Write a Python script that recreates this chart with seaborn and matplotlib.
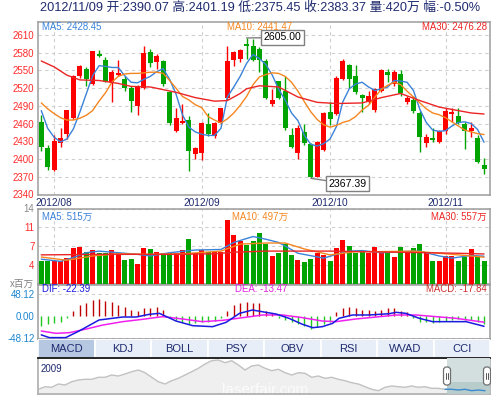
import numpy as np
import pandas as pd
import matplotlib
matplotlib.use("Agg")
import matplotlib.pyplot as plt
import seaborn as sns
from matplotlib.patches import Rectangle, FancyBboxPatch

# ---------------- data ----------------
opens = [2462, 2419, 2381, 2427, 2442, 2469, 2541, 2553, 2527, 2578,
         2568, 2531, 2542, 2536, 2521, 2490, 2521, 2581, 2565, 2566,
         2514, 2448, 2461, 2466, 2408, 2410, 2459, 2439, 2461, 2503,
         2568, 2570, 2595, 2592, 2587, 2566, 2493, 2532, 2516, 2440,
         2411, 2445, 2425, 2369, 2416, 2480, 2476, 2535, 2559, 2540,
         2508, 2496, 2483, 2516, 2548, 2527, 2544, 2497, 2500, 2478,
         2427, 2435, 2429, 2447, 2477, 2473, 2459, 2447, 2435, 2390.07]
highs = [2475, 2423, 2440, 2452, 2483, 2542, 2559, 2556, 2583, 2585,
         2572, 2551, 2568, 2541, 2524, 2525, 2591, 2587, 2578, 2568,
         2516, 2486, 2493, 2473, 2421, 2463, 2478, 2463, 2487, 2592,
         2583, 2586, 2605, 2603, 2589, 2569, 2519, 2532, 2541, 2453,
         2457, 2459, 2427, 2430, 2479, 2496, 2541, 2570, 2561, 2559,
         2510, 2516, 2521, 2553, 2552, 2550, 2551, 2506, 2506, 2482,
         2442, 2452, 2450, 2486, 2486, 2486, 2463, 2462, 2440, 2401.19]
lows = [2413, 2381, 2380, 2421, 2434, 2468, 2538, 2523, 2525, 2573,
        2530, 2496, 2540, 2516, 2480, 2474, 2518, 2555, 2552, 2524,
        2457, 2446, 2459, 2380, 2400, 2399, 2439, 2435, 2460, 2500,
        2558, 2564, 2569, 2566, 2547, 2501, 2489, 2501, 2449, 2418,
        2400, 2423, 2367.39, 2369, 2414, 2457, 2474, 2534, 2521, 2510,
        2479, 2493, 2480, 2513, 2531, 2524, 2506, 2493, 2478, 2412,
        2420, 2429, 2428, 2442, 2462, 2459, 2417, 2437, 2394, 2375.45]
closes = [2421, 2386, 2431, 2436, 2483, 2541, 2557, 2535, 2583, 2575,
          2531, 2548, 2545, 2521, 2499, 2523, 2579, 2562, 2575, 2527,
          2461, 2469, 2465, 2414, 2418, 2461, 2442, 2461, 2487, 2566,
          2581, 2585, 2592, 2568, 2568, 2503, 2500, 2503, 2452, 2420,
          2452, 2428, 2370, 2429, 2478, 2468, 2538, 2566, 2535, 2513,
          2504, 2506, 2518, 2551, 2542, 2547, 2511, 2503, 2482, 2437,
          2438, 2432, 2447, 2481, 2480, 2461, 2448, 2453, 2395, 2383.37]
volumes = [4.2, 4.2, 4.2, 4.2, 4.8, 6.6, 6.9, 6.0, 6.3, 5.7,
           5.7, 6.3, 5.7, 4.4, 4.6, 3.8, 6.6, 6.5, 6.0, 5.7,
           5.7, 5.7, 6.3, 8.3, 5.7, 6.3, 6.0, 6.0, 6.0, 11.8,
           9.1, 7.9, 7.3, 7.9, 9.5, 7.5, 5.2, 5.8, 7.4, 5.4,
           4.4, 4.0, 4.6, 5.7, 5.4, 4.3, 6.6, 8.1, 7.1, 5.7,
           6.0, 5.7, 6.8, 6.2, 5.8, 5.0, 6.8, 5.7, 6.6, 7.4,
           6.0, 4.2, 4.2, 5.2, 5.2, 4.3, 5.0, 6.5, 5.0, 4.2]   # x 百万

ma5 = [2482, 2452, 2437, 2429, 2434, 2451, 2479, 2510, 2541, 2558,
       2557, 2555, 2555, 2541, 2530, 2529, 2535, 2540, 2548, 2553,
       2535, 2510, 2475, 2454, 2446, 2442, 2440, 2440, 2452, 2505,
       2522, 2540, 2562, 2577, 2570, 2560, 2542, 2518, 2500, 2478,
       2465, 2440, 2425, 2422, 2426, 2434, 2455, 2497, 2519, 2527,
       2530, 2522, 2516, 2519, 2522, 2533, 2532, 2530, 2516, 2484,
       2462, 2449, 2447, 2448, 2456, 2462, 2463, 2460, 2450, 2428.45]
ma10 = [2495, 2485, 2477, 2470, 2466, 2466, 2469, 2474, 2482, 2498,
        2512, 2530, 2540, 2544, 2545, 2545, 2546, 2547, 2547, 2545,
        2533, 2520, 2506, 2500, 2492, 2487, 2472, 2466, 2461, 2468,
        2478, 2491, 2506, 2526, 2539, 2543, 2546, 2545, 2540, 2530,
        2515, 2497, 2480, 2467, 2458, 2454, 2457, 2462, 2465, 2472,
        2483, 2491, 2505, 2518, 2525, 2530, 2526, 2515, 2505, 2495,
        2485, 2478, 2475, 2470, 2463, 2456, 2449, 2446, 2443, 2441.47]
ma30_idx = [0, 2, 4, 6, 9, 12, 14, 17, 21, 24, 27, 29, 31, 32, 34, 37, 40,
            43, 46, 50, 53, 56, 59, 62, 65, 67, 69]
ma30_val = [2566, 2556, 2542, 2534, 2533, 2528, 2523, 2522, 2513, 2504, 2498,
            2499, 2511, 2519, 2524, 2522, 2505, 2496, 2494, 2495, 2504, 2511,
            2499, 2488, 2482, 2478, 2476.28]

vma5_idx = [0, 3, 5, 7, 9, 12, 15, 17, 20, 24, 28, 30, 33, 35, 37, 40, 44,
            46, 48, 50, 53, 56, 59, 62, 64, 67, 69]
vma5_val = [4.6, 4.2, 4.9, 5.8, 6.1, 5.8, 5.5, 5.2, 5.8, 6.3, 6.4, 7.7, 8.8,
            8.3, 7.7, 5.7, 4.8, 5.5, 6.1, 6.2, 5.8, 6.0, 6.1, 5.2, 4.8, 5.3, 5.15]
vma10_idx = [0, 4, 8, 12, 17, 22, 28, 31, 35, 38, 41, 45, 49, 53, 58, 62, 66, 69]
vma10_val = [5.0, 4.4, 5.2, 5.6, 5.5, 5.6, 6.1, 7.4, 7.6, 7.6, 6.5, 5.4, 6.0,
             6.0, 6.1, 5.7, 5.3, 4.97]
vma30_idx = [0, 10, 20, 27, 30, 35, 40, 45, 50, 55, 60, 65, 69]
vma30_val = [5.4, 5.5, 5.5, 5.6, 5.9, 6.1, 6.1, 6.1, 6.0, 5.9, 5.8, 5.7, 5.57]

macd_hist = [-21, -18, -16, -12, -5, 11, 24, 27.5, 35, 36,
             33, 30, 25, 20, 12, 11, 17, 18, 20, 13,
             -4, -9, -12, -18, -16, -12, -14, -11, -4, 11,
             24, 27.5, 31, 29, 27.5, 11, 6, -5, -9, -14,
             -18, -21, -29, -23, -18, -14, 8, 17, 20, 17,
             14, 13, 11, 14, 17, 18, 11, 8, -5, -12,
             -14, -16, -14, -11, -9, -6.5, -9, -9, -12, -17.84]
dif_idx = [0, 1.25, 3.8, 5.9, 9.0, 12.7, 14.8, 16.8, 18.4, 19.2, 21, 23.6, 26.7,
           28.8, 30.9, 32.9, 35, 36.6, 38.6, 40.7, 42.3, 43.8, 45.4, 46.4, 48.5,
           51.1, 54.2, 55.3, 56.8, 58.9, 61, 64.1, 66.2, 69]
dif_val = [-41, -47, -47, -32.6, -8.7, -2.2, -2.2, 3.6, 5.8, 0.7, -10.9, -21,
           -23.2, -13.8, 5.8, 13, 8, 4.3, -5, -18, -25.4, -23.2, -16, -5, 2.2,
           2.2, 5, 8, 5.8, -5, -12.3, -12.3, -12.3, -22.39]
dea_idx = [0, 2.3, 4.4, 7, 9.6, 12.7, 15.8, 18.9, 22, 25.1, 28.3, 31.4, 34.5,
           37.6, 40.7, 43.8, 45.9, 49, 52.2, 55.3, 58.4, 61.5, 64.6, 69]
dea_val = [-32.6, -37.7, -36.2, -28.3, -19.6, -12.3, -7.2, -1.4, -6.5, -12.3,
           -9.4, -3.6, 2.2, 2.2, -3.6, -10.9, -12.3, -6.5, -2.2, 2.2, 2.2, -1.4,
           -5, -13.47]

nav_level = [4.7, 7.3, 6.7, 10, 9, 12.3, 14, 14.7, 14.7, 16.7, 16.7, 19, 18, 20,
             22.3, 24, 21.3, 16.7, 12.3, 10, 13.3, 15.7, 19, 22.3, 25.7, 30,
             33.3, 34, 31.3, 33.3, 29, 24, 28, 29, 25.7, 23.3, 24.7, 21.3, 19,
             21.3, 20.7, 16.7, 18, 15.7, 16.7, 14.7, 13.3, 11.3, 10, 7.3, 4.7,
             3.3, 6.7, 8, 7.3, 6.7, 8, 6.7, 7.3, 5.7, 5.7, 4.7, 4.7, 4, 4.7,
             3.3, 4, 3.3]
nav_start_label = "2009"

tab_labels = ["MACD", "KDJ", "BOLL", "PSY", "OBV", "RSI", "WVAD", "CCI"]
price_ticks = [2340, 2370, 2400, 2430, 2460, 2490, 2520, 2550, 2580, 2610]
vol_ticks = [3.5, 7, 10.5, 14]
vol_tick_labels = ["4", "7", "11", "14"]
macd_ticks = [48.12, 0.0, -48.12]
macd_tick_labels = ["48.12", "0.00", "-48.12"]
vol_unit = "x百万"
change_pct = "-0.50%"

all_days = pd.bdate_range("2012-07-30", "2012-11-09")
dates = [d for d in all_days if not (d.month == 10 and d.day <= 5)]

# ---------------- styling ----------------
sns.set_theme(style="white")
plt.rcParams['font.family'] = ['Liberation Sans', 'Noto Sans CJK SC', 'DejaVu Sans']

W, H = 491, 398
RED = '#ff0000'
GREEN = '#00a400'
C5 = '#3a82d8'
C10 = '#f5861f'
C30 = '#ec2424'
NAVY = '#1e2a6e'
GRID = '#cfcfcf'
SPINE = '#9c9c9c'

fig = plt.figure(figsize=(W / 100, H / 100), dpi=100)
fig.patch.set_facecolor('white')


def rect(x0, y0, x1, y1):
    return [x0 / W, 1 - y1 / H, (x1 - x0) / W, (y1 - y0) / H]


def ptext(x, y, s, **kw):
    fig.text(x / W, 1 - y / H, s, **kw)


n = len(closes)
k = np.arange(n)
o = np.array(opens, float)
c = np.array(closes, float)
up = c >= o
XL = (-0.51, 69.93)
month_idx = [i for i in range(1, n) if dates[i].month != dates[i - 1].month]
month_lab = [dates[i].strftime('%Y/%m') for i in month_idx]


def style_axes(ax):
    ax.set_facecolor('white')
    for s in ax.spines.values():
        s.set_color(SPINE)
        s.set_linewidth(1.1)
    ax.set_xlim(*XL)
    ax.set_xlabel('')
    ax.set_ylabel('')


# ---------------- main candle panel ----------------
axm = fig.add_axes(rect(38, 22, 490, 194.5))
style_axes(axm)
axm.set_ylim(2340, 2632)
axm.set_yticks(price_ticks)
axm.set_yticklabels([str(t) for t in price_ticks])
axm.set_xticks(month_idx)
axm.set_xticklabels(month_lab)
axm.tick_params(axis='y', length=0, pad=2.5, labelsize=7, labelcolor='#ff2a2a')
axm.tick_params(axis='x', length=0, pad=2.2, labelsize=7.3, labelcolor=NAVY)
axm.grid(True, linestyle=(0, (3, 3)), color=GRID, linewidth=0.8)
axm.set_axisbelow(True)

cols = np.where(up, RED, GREEN)
axm.vlines(k, lows, highs, colors=cols, linewidth=1.0, zorder=3)
body_h = np.maximum(np.abs(c - o), 1.2)
axm.bar(k, body_h, bottom=np.minimum(o, c), width=0.78, color=cols,
        linewidth=0, zorder=4)

sns.lineplot(x=k, y=ma5, ax=axm, color=C5, linewidth=1.0, zorder=5)
sns.lineplot(x=k, y=ma10, ax=axm, color=C10, linewidth=1.0, zorder=5)
sns.lineplot(x=ma30_idx, y=ma30_val, ax=axm, color=C30, linewidth=1.0, zorder=5)
axm.set_xlim(*XL)
axm.set_ylim(2340, 2632)
axm.set_xlabel('')
axm.set_ylabel('')

kh = int(np.argmax(highs))
kl = int(np.argmin(lows))
box = dict(boxstyle='square,pad=0.22', fc='white', ec='#808080', lw=1.0)
axm.annotate(f"{highs[kh]:.2f}", xy=(kh, highs[kh]), xytext=(36, 0.5),
             textcoords='offset pixels', ha='center', va='center', fontsize=7.6,
             color='black', bbox=box, zorder=8,
             arrowprops=dict(arrowstyle='-', color='#808080', lw=1.0,
                             shrinkA=0, shrinkB=0))
axm.annotate(f"{lows[kl]:.2f}", xy=(kl, lows[kl]), xytext=(37, -5.5),
             textcoords='offset pixels', ha='center', va='center', fontsize=7.6,
             color='black', bbox=box, zorder=8,
             arrowprops=dict(arrowstyle='-', color='#808080', lw=1.0,
                             shrinkA=0, shrinkB=0))

ptext(42, 27.5, f"MA5: {ma5[-1]:.2f}", color=C5, fontsize=6.9, va='center')
ptext(227, 27.5, f"MA10: {ma10[-1]:.2f}", color=C10, fontsize=6.9, va='center')
ptext(487, 27.5, f"MA30: {ma30_val[-1]:.2f}", color=C30, fontsize=6.9,
      va='center', ha='right')

# ---------------- volume panel ----------------
axv = fig.add_axes(rect(38, 208.5, 490, 284))
style_axes(axv)
dfv = pd.DataFrame({'k': k, 'vol': volumes, 'dir': np.where(up, 'up', 'down')})
sns.barplot(data=dfv, x='k', y='vol', hue='dir', palette={'up': RED, 'down': GREEN},
            native_scale=True, width=0.78, dodge=False, saturation=1,
            errorbar=None, legend=False, linewidth=0, ax=axv, zorder=3)
sns.lineplot(x=vma5_idx, y=vma5_val, ax=axv, color=C5, linewidth=1.0, zorder=5)
sns.lineplot(x=vma10_idx, y=vma10_val, ax=axv, color=C10, linewidth=1.0, zorder=5)
sns.lineplot(x=vma30_idx, y=vma30_val, ax=axv, color=C30, linewidth=1.0, zorder=5)
axv.set_xlim(*XL)
axv.set_ylim(0, 14)
axv.set_yticks(vol_ticks)
axv.set_yticklabels(vol_tick_labels)
for lab in axv.get_yticklabels():
    lab.set_color('#ff2a2a')
axv.get_yticklabels()[-1].set_color('#888888')
axv.set_xticks(month_idx)
axv.set_xticklabels([])
axv.tick_params(axis='y', length=0, pad=2.5, labelsize=7)
axv.tick_params(axis='x', length=0)
axv.grid(True, linestyle=(0, (3, 3)), color=GRID, linewidth=0.8)
axv.set_axisbelow(True)
axv.set_xlabel('')
axv.set_ylabel('')

ptext(42, 217, f"MA5: {vma5_val[-1] * 100:.0f}万", color=C5, fontsize=6.9, va='center')
ptext(232, 217, f"MA10: {vma10_val[-1] * 100:.0f}万", color=C10, fontsize=6.9, va='center')
ptext(487, 217, f"MA30: {vma30_val[-1] * 100:.0f}万", color=C30, fontsize=6.9,
      va='center', ha='right')
ptext(10, 284, vol_unit, color='#808080', fontsize=6.9, va='center')

# ---------------- MACD panel ----------------
axd = fig.add_axes(rect(38, 285, 490, 339))
style_axes(axd)
hist = np.array(macd_hist)
axd.vlines(k, 0, hist, colors=np.where(hist >= 0, '#c00000', '#22c822'),
           linewidth=1.0, zorder=3)
sns.lineplot(x=dea_idx, y=dea_val, ax=axd, color='#f020f0', linewidth=1.1, zorder=4)
sns.lineplot(x=dif_idx, y=dif_val, ax=axd, color='#1a1ae0', linewidth=1.1, zorder=5)
axd.set_xlim(*XL)
axd.set_ylim(-50, 67.4)
axd.set_yticks(macd_ticks)
axd.set_yticklabels(macd_tick_labels)
axd.set_xticks([])
axd.tick_params(axis='y', length=0, pad=2.5, labelsize=7, labelcolor='#1c86d0')
for t in (48.12, -48.12):
    axd.axhline(t, color=GRID, linestyle=(0, (3, 3)), linewidth=0.8, zorder=1)
axd.set_xlabel('')
axd.set_ylabel('')

ptext(42, 288.5, f"DIF: {dif_val[-1]:.2f}", color='#1a1ae0', fontsize=6.9, va='center')
ptext(235, 288.5, f"DEA: {dea_val[-1]:.2f}", color='#e020e0', fontsize=6.9, va='center')
ptext(487, 288.5, f"MACD: {macd_hist[-1]:.2f}", color='#cc3030', fontsize=6.9,
      va='center', ha='right')

# ---------------- tabs ----------------
axt = fig.add_axes(rect(38, 339, 490, 358))
axt.set_xlim(0, len(tab_labels))
axt.set_ylim(0, 1)
axt.axis('off')
for i, lab in enumerate(tab_labels):
    fc = '#b6c7e2' if i == 0 else '#e8eef8'
    axt.add_patch(Rectangle((i, 0), 1, 1, facecolor=fc, edgecolor='white', lw=1.2))
    axt.text(i + 0.5, 0.45, lab, ha='center', va='center', fontsize=8, color=NAVY)

# ---------------- navigator ----------------
axn = fig.add_axes(rect(38, 358, 490, 394))
nv = np.array(nav_level)
xn = np.arange(len(nv))
axn.set_xlim(-0.05, 67.75)
axn.set_ylim(0, 36)
axn.fill_between(xn, nv, color='#efefef', zorder=1)
sns.lineplot(x=xn, y=nv, ax=axn, color='#c2c2c2', linewidth=1.0, zorder=2)
ws = 61.3
axn.add_patch(Rectangle((ws, 0), 67.75 - ws, 36, facecolor='#d3dfdf',
                        edgecolor='none', zorder=3))
axn.add_patch(Rectangle((ws, 0), 67.75 - ws, 12, facecolor='#b9cccc',
                        edgecolor='none', zorder=3))
sel = xn >= 61
axn.plot(xn[sel], nv[sel], color='#3c8ad0', linewidth=1.0, zorder=4)
axn.set_xticks([])
axn.set_yticks([])
axn.set_xlabel('')
axn.set_ylabel('')
for s in axn.spines.values():
    s.set_color('#b0b0b0')
axn.spines['top'].set_color('black')
axn.spines['top'].set_linewidth(1.2)
axn.text(0.3, 25, nav_start_label, fontsize=7, color=NAVY, va='center', zorder=5)
axn.text(34, 4, "laserfair.com", fontsize=11, color='white', alpha=0.8,
         ha='center', va='center', zorder=2)

# handles
ov = fig.add_axes([0, 0, 1, 1], zorder=20)
ov.set_xlim(0, W)
ov.set_ylim(H, 0)
ov.axis('off')
for hx in (447, 487):
    ov.add_patch(FancyBboxPatch((hx - 3.5, 367), 7, 18,
                                boxstyle='round,pad=0,rounding_size=3',
                                fc='white', ec='#707070', lw=0.9))
    ov.plot([hx - 1, hx - 1], [373, 379], color='#555555', lw=0.7)
    ov.plot([hx + 1, hx + 1], [373, 379], color='#555555', lw=0.7)

# ---------------- title ----------------
title = (f"{dates[-1].strftime('%Y/%m/%d')} 开:{opens[-1]:.2f} 高:{highs[-1]:.2f} "
         f"低:{lows[-1]:.2f} 收:{closes[-1]:.2f} 量:{volumes[-1] * 100:.0f}万 幅:{change_pct}")
ptext(40, 8, title, color=NAVY, fontsize=9.2, va='center')

fig.savefig("out.png", dpi=100, facecolor='white')
